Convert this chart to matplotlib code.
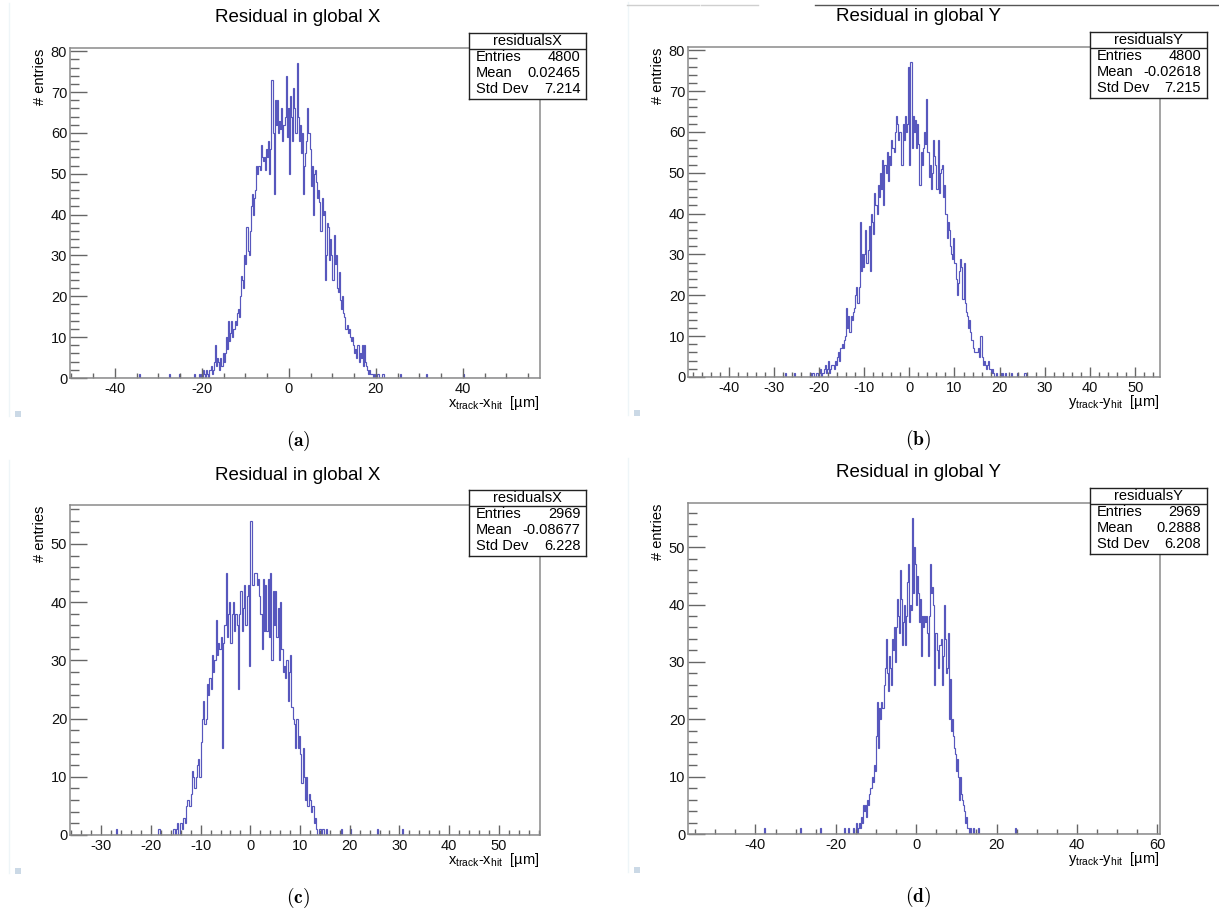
import numpy as np
import matplotlib
matplotlib.use("Agg")
import matplotlib.pyplot as plt
from matplotlib.ticker import MultipleLocator
from matplotlib.lines import Line2D
from matplotlib.patches import Rectangle

plt.rcParams['font.family'] = ['Liberation Sans', 'DejaVu Sans']
plt.rcParams['axes.unicode_minus'] = False

W, H = 1219, 917
BIN_W = 0.25  # um per bin

# counts per 0.25 um bin, core region starts at *_start
a_start = -22.0
a_counts = [
    0, 1, 0, 0,  0, 1, 0, 1,  0, 2, 1, 0,  2, 1, 0, 2,  3, 1, 2, 4,
    8, 3, 5, 4,  2, 5, 3, 6,  4, 6, 10, 7,  14, 9, 11, 14,  10, 12, 14, 13,
    16, 17, 15, 20,  25, 24, 22, 30,  28, 37, 31, 30,  36, 42, 45, 40,  44, 46, 52, 50,
    52, 51, 57, 54,  53, 54, 51, 56,  54, 58, 50, 56,  73, 60, 45, 68,  62, 68, 60, 63,
    61, 66, 58, 62,  64, 74, 59, 66,  50, 69, 64, 58,  71, 66, 60, 77,  64, 58, 62, 55,
    60, 45, 52, 55,  58, 66, 60, 56,  47, 52, 40, 50,  51, 48, 44, 46,  43, 36, 44, 40,
    41, 24, 30, 38,  37, 29, 34, 30,  24, 35, 28, 30,  22, 21, 26, 19,  17, 20, 16, 15,
    12, 13, 11, 12,  10, 9, 10, 8,  6, 7, 5, 8,  4, 6, 5, 8,  3, 8, 4, 3,
    2, 1, 2, 1,  1, 0, 1, 0,  0, 1, 1, 0,  0, 0, 1, 0,
]
a_single = [-34.4, -27.5, -25.2, 25.7, 31.7, 40.0]

b_start = -22.0
b_counts = [
    1, 0, 1, 1,  0, 1, 1, 0,  1, 2, 0, 1,  2, 3, 1, 2,  4, 1, 2, 3,
    3, 2, 4, 3,  5, 6, 4, 7,  8, 7, 9, 10,  17, 12, 15, 11,  15, 14, 16, 17,
    20, 22, 18, 22,  38, 26, 30, 27,  30, 36, 28, 31,  37, 26, 40, 38,  35, 45, 42, 40,
    47, 44, 50, 46,  53, 42, 52, 50,  55, 48, 54, 52,  58, 56, 55, 60,  64, 62, 58, 60,
    60, 52, 62, 58,  64, 60, 62, 76,  52, 77, 56, 64,  60, 63, 56, 62,  57, 47, 55, 52,
    56, 60, 57, 68,  55, 49, 52, 46,  50, 58, 54, 52,  46, 58, 45, 50,  51, 52, 44, 47,
    40, 34, 38, 36,  32, 30, 29, 34,  28, 24, 20, 23,  26, 29, 27, 19,  28, 18, 16, 15,
    12, 14, 11, 9,  7, 6, 6, 6,  6, 7, 5, 10,  5, 3, 4, 3,  2, 3, 4, 2,
    1, 2, 1, 0,  0, 1, 0, 0,  1, 0, 1, 0,  0, 1, 0, 0,
]
b_single = [-27.5, -25.4, 22.6, 23.9, 25.7]

c_start = -16.0
c_counts = [
    0, 0, 1, 0,  1, 2, 0, 2,  2, 1, 3, 2,  5, 6, 6, 5,  7, 11, 10, 8,
    10, 12, 13, 10,  16, 20, 23, 19,  20, 26, 24, 27,  25, 31, 28, 30,  37, 31, 33, 32,
    34, 15, 33, 36,  45, 34, 38, 40,  33, 38, 40, 35,  38, 36, 25, 38,  42, 35, 39, 43,
    36, 41, 43, 29,  54, 43, 43, 45,  45, 43, 44, 41,  38, 32, 44, 35,  43, 35, 44, 34,
    45, 30, 42, 36,  42, 34, 39, 30,  40, 32, 28, 29,  27, 30, 23, 28,  31, 22, 20, 19,
    15, 20, 15, 17,  14, 9, 15, 10,  6, 10, 5, 7,  6, 4, 5, 2,  3, 1, 0, 1,
    1, 0, 1, 0,  0, 1, 0, 0,
]
c_single = [-27.0, -18.3, 18.3, 20.2, 25.6, 30.7]

d_start = -16.0
d_counts = [
    0, 1, 0, 0,  2, 0, 1, 2,  1, 3, 2, 5,  4, 5, 3, 6,  5, 7, 8, 8,
    10, 9, 12, 11,  17, 23, 15, 22,  20, 23, 22, 22,  26, 29, 34, 28,  25, 31, 29, 26,
    34, 32, 36, 30,  36, 41, 38, 35,  46, 41, 33, 37,  40, 33, 38, 44,  47, 37, 40, 39,
    55, 42, 50, 47,  40, 45, 42, 37,  41, 31, 38, 36,  38, 37, 38, 35,  31, 38, 47, 42,
    43, 40, 26, 35,  35, 32, 29, 33,  33, 34, 26, 31,  40, 34, 28, 29,  35, 20, 27, 18,
    20, 17, 15, 14,  11, 13, 10, 6,  10, 7, 6, 5,  4, 2, 3, 1,  1, 0, 1, 0,
    0, 1, 0, 0,  0, 0, 0, 0,
]
d_single = [-38.0, -28.8, -24.0, -18.0, -16.9, 15.7, 24.5]

titles = ['Residual in global X', 'Residual in global Y',
          'Residual in global X', 'Residual in global Y']
hist_names = ['residualsX', 'residualsY', 'residualsX', 'residualsY']
entries = ['4800', '4800', '2969', '2969']
means = ['0.02465', '-0.02618', '-0.08677', '0.2888']
std_devs = ['7.214', '7.215', '6.228', '6.208']
captions = ['(a)', '(b)', '(c)', '(d)']

LINE_COL = '#3a3ab2'
FRAME_COL = '#8a8a8a'
TICK_COL = '#666666'


def fx(px):
    return px / W


def fy(py):
    return 1 - py / H


def build_counts(edges, start, core, singles):
    counts = np.zeros(len(edges) - 1)
    i0 = int(round((start - edges[0]) / BIN_W))
    counts[i0:i0 + len(core)] = core
    for x in singles:
        counts[int((x - edges[0]) // BIN_W)] += 1
    return counts


fig = plt.figure(figsize=(W / 100, H / 100), dpi=100)
edges = np.arange(-60.0, 62.0 + BIN_W / 2, BIN_W)

# pixel layout: (left, right, top, bottom), xlim, ymax, x major, x minor, var
panels = [
    dict(box=(70, 540, 47.7, 378), xlim=(-50.3, 57.7), ymax=80.85, xmaj=20, xmin=5,
         var='x', counts=(a_start, a_counts, a_single), dx=0),
    dict(box=(688, 1160, 46.7, 377), xlim=(-49.0, 55.5), ymax=80.85, xmaj=10, xmin=2,
         var='y', counts=(b_start, b_counts, b_single), dx=1),
    dict(box=(70, 540, 505, 835), xlim=(-36.3, 58.3), ymax=56.7, xmaj=10, xmin=2,
         var='x', counts=(c_start, c_counts, c_single), dx=0),
    dict(box=(688, 1160, 502.7, 834), xlim=(-56.8, 60.7), ymax=57.75, xmaj=20, xmin=5,
         var='y', counts=(d_start, d_counts, d_single), dx=1),
]

for i, p in enumerate(panels):
    l, r, t, b = p['box']
    ax = fig.add_axes([fx(l), fy(b), (r - l) / W, (b - t) / H])
    start, core, singles = p['counts']
    counts = build_counts(edges, start, core, singles)
    ax.stairs(counts, edges, color=LINE_COL, lw=0.85, alpha=0.85)
    ax.set_xlim(*p['xlim'])
    ax.set_ylim(0, p['ymax'])

    ax.xaxis.set_major_locator(MultipleLocator(p['xmaj']))
    ax.xaxis.set_minor_locator(MultipleLocator(p['xmin']))
    ax.yaxis.set_major_locator(MultipleLocator(10))
    ax.yaxis.set_minor_locator(MultipleLocator(2))
    ax.tick_params(axis='x', which='major', direction='in', length=7.2, width=1,
                   color=TICK_COL, labelsize=10.5, pad=3, labelcolor='#111111')
    ax.tick_params(axis='x', which='minor', direction='in', length=3.6, width=1,
                   color=TICK_COL)
    ax.tick_params(axis='y', which='major', direction='in', length=12.5, width=1,
                   color=TICK_COL, labelsize=10.5, pad=2, labelcolor='#111111')
    ax.tick_params(axis='y', which='minor', direction='in', length=6.3, width=1,
                   color=TICK_COL)
    for s in ax.spines.values():
        s.set_color(FRAME_COL)
        s.set_linewidth(1.1)

    cx = (l + r) / 2 - 7 + 1.5 * p['dx']
    fig.text(fx(cx), fy(t - 30), titles[i], ha='center', va='center', fontsize=13.5)

    # y title, top aligned with the frame
    fig.text(fx(l - 30.5), fy(t + 0.5), '# entries', rotation=90, ha='center', va='top',
             fontsize=10.5)
    v = p['var']
    fig.text(fx(r), fy(b + 25), v + r'$_{\mathregular{track}}$-' + v +
             r'$_{\mathregular{hit}}$  [µm]', ha='right', va='center', fontsize=10.5)

    # stats box
    sb_l, sb_t = r - 71 + 0.5 * p['dx'], t - 15
    sb = fig.add_axes([fx(sb_l), fy(sb_t + 66), 117 / W, 66 / H])
    sb.set_xticks([])
    sb.set_yticks([])
    sb.set_xlim(0, 1)
    sb.set_ylim(0, 1)
    for s in sb.spines.values():
        s.set_color('#222222')
        s.set_linewidth(1.0)
    sb.axhline(0.755, color='#222222', lw=1.0)
    sb.text(0.5, 0.88, hist_names[i], ha='center', va='center', fontsize=10.5)
    rows = [('Entries', entries[i]), ('Mean', means[i]), ('Std Dev', std_devs[i])]
    for k, (lab, val) in enumerate(rows):
        yy = 0.632 - k * 0.243
        sb.text(0.06, yy, lab, ha='left', va='center', fontsize=10.5)
        sb.text(0.955, yy, val, ha='right', va='center', fontsize=10.5)

    # caption under each panel
    fig.text(fx(cx), fy(b + 63), r'$\mathbf{' + captions[i] + '}$', ha='center',
             va='center', fontsize=14, math_fontfamily='cm')

    # screenshot leftovers: faint edge line and small square
    ex = 9 if p['dx'] == 0 else 627.6
    fig.add_artist(Line2D([fx(ex), fx(ex)], [fy(t - 45), fy(b + 38)],
                          color='#eef5f8', lw=1))
    fig.add_artist(Rectangle((fx(ex + 6), fy(b + 39)), 6 / W, 6 / H,
                             color='#cbd9e6', lw=0))

# top border pieces of panel (b)
fig.add_artist(Line2D([fx(815), fx(1219)], [fy(5), fy(5)], color='#555555', lw=1))
fig.add_artist(Line2D([fx(627), fx(699)], [fy(5), fy(5)], color='#cfcfcf', lw=1))
fig.add_artist(Line2D([fx(701), fx(758)], [fy(5), fy(5)], color='#cfcfcf', lw=1))

fig.savefig('out.png', dpi=100)
